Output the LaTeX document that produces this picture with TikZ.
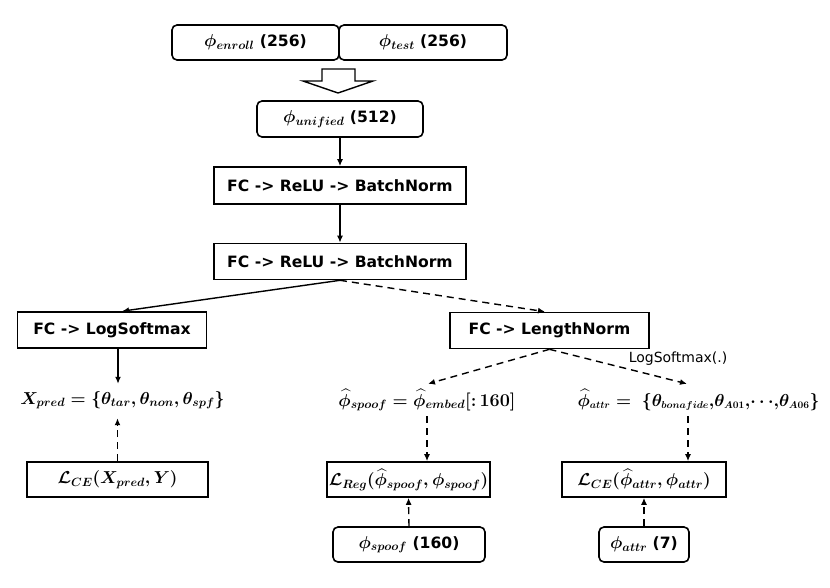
\documentclass[tikz,border=0pt]{standalone}
\usepackage{amsmath}
\usepackage{bm}
\usepackage{fontspec}
\setmainfont{DejaVu Sans}
\newfontfamily\lmrfont{Latin Modern Roman}
\DeclareMathSizes{16}{16}{10}{8}
\DeclareMathSizes{17.5}{17.5}{11.5}{9}
\DeclareMathSizes{18}{18}{12.5}{9}
\DeclareMathSizes{19}{19}{13}{9}
\newcommand{\mb}[1]{\begingroup\fontsize{19}{21}\selectfont$\bm{#1}$\endgroup}
\usetikzlibrary{arrows.meta,calc}
\begin{document}
\begin{tikzpicture}[x=1pt,y=-1pt,
  box/.style={draw,line width=1.6pt,inner sep=0pt,font=\fontsize{15.6}{18}\selectfont\bfseries},
  rbox/.style={box,rounded corners=5pt},
  mbox/.style={draw,line width=1.6pt,inner sep=0pt,font=\fontsize{18}{20}\selectfont\boldmath},
  eq/.style={inner sep=0pt,minimum height=28pt,font=\fontsize{17.5}{20}\selectfont\boldmath},
  arr/.style={line width=1.4pt,-{Latex[length=7pt,width=6pt]}},
  darr/.style={arr,dash pattern=on 7pt off 5pt},
]
\useasboundingbox (0,0) rectangle (830,587);

% top boxes
\node[rbox,minimum width=167pt,minimum height=35pt] (enroll) at (255.5,42.5) {\mb{\phi_{enroll}} (256)};
\node[rbox,minimum width=168pt,minimum height=35pt] (test) at (423,42.5) {\mb{\phi_{test}} (256)};

% hollow arrow
\draw[line width=1.4pt,line join=miter] (322,69) -- (355,69) -- (355,81) -- (373,81) -- (338,93) -- (303,81) -- (322,81) -- cycle;

\node[rbox,minimum width=166pt,minimum height=36pt] (unified) at (340,119) {\mb{\phi_{unified}} (512)};
\node[box,minimum width=252pt,minimum height=37pt] (fc1) at (340,185.5) {FC -> ReLU -> BatchNorm};
\node[box,minimum width=252pt,minimum height=36pt] (fc2) at (340,261.5) {FC -> ReLU -> BatchNorm};

\node[box,minimum width=189pt,minimum height=36pt] (lsm) at (112,330) {FC -> LogSoftmax};
\node[box,minimum width=199pt,minimum height=36pt] (lnorm) at (549.5,330.5) {FC -> LengthNorm};

\node[font=\fontsize{14}{16}\selectfont,inner sep=0pt] (lsmlabel) at (678,359) {LogSoftmax(.)};

% formulas
\node[eq] (xpred) at (122.5,400) {$X_{pred} = \{\theta_{tar}{,}\,\theta_{non}{,}\,\theta_{spf}\}$};
\node[eq,font=\fontsize{18}{20}\selectfont\boldmath] (spoofeq) at (427,400) {$\widehat{\phi}_{spoof} = \widehat{\phi}_{embed}\mbox{\lmrfont\bfseries [:\,160]}$};
\node[eq,font=\fontsize{16}{18}\selectfont\boldmath] (attreq) at (698.5,400) {$\widehat{\phi}_{attr} = \ \{\theta_{bonafide}{,}\theta_{A01}{,}{\cdots}{,}\theta_{A06}\}$};

% loss boxes
\node[mbox,minimum width=181pt,minimum height=35pt] (lce1) at (117.5,479.5) {$\mathcal{L}_{CE}(X_{pred}{,}\,Y)$};
\node[mbox,minimum width=163pt,minimum height=35pt] (lreg) at (408.5,479.5) {$\mathcal{L}_{Reg}(\widehat{\phi}_{spoof}{,}\,\phi_{spoof})$};
\node[mbox,minimum width=164pt,minimum height=35pt] (lce2) at (644,479.5) {$\mathcal{L}_{CE}(\widehat{\phi}_{attr}{,}\,\phi_{attr})$};

% bottom boxes
\node[rbox,minimum width=152pt,minimum height=35pt] (spoofbox) at (409,544.5) {\mb{\phi_{spoof}} (160)};
\node[rbox,minimum width=90pt,minimum height=35pt] (attrbox) at (644,544.5) {\mb{\phi_{attr}} (7)};

% connectors
\draw[arr] (unified.south) -- (fc1.north);
\draw[arr] (fc1.south) -- (fc2.north);
\draw[arr] (fc2.south) -- ([xshift=10pt]lsm.north);
\draw[darr] (fc2.south) -- ([xshift=-4.5pt]lnorm.north);
\draw[arr] ([xshift=6pt]lsm.south) -- ([xshift=-4.5pt,yshift=2pt]xpred.north);
\draw[darr] (lce1.north) -- ([xshift=-5pt,yshift=-4pt]xpred.south);
\draw[darr] (lnorm.south) -- ([xshift=1pt,yshift=2pt]spoofeq.north);
\draw[darr] (lnorm.south) -- ([xshift=-11.5pt,yshift=2pt]attreq.north);
\draw[darr] ([yshift=-2pt]spoofeq.south) -- ([xshift=18.5pt]lreg.north);
\draw[darr] ([xshift=-10.5pt,yshift=-2pt]attreq.south) -- ([xshift=44pt]lce2.north);
\draw[darr] (spoofbox.north) -- (lreg.south);
\draw[darr] (attrbox.north) -- (lce2.south);
\end{tikzpicture}
\end{document}
